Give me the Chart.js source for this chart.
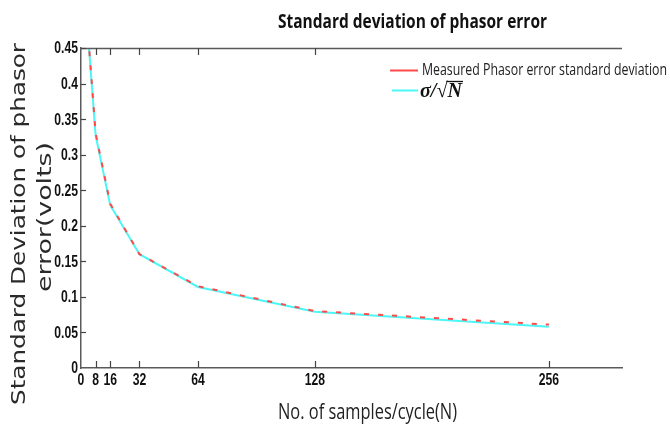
<!DOCTYPE html>
<html>
<head>
<meta charset="utf-8">
<script src="https://cdn.jsdelivr.net/npm/chart.js@4/dist/chart.umd.min.js"></script>
<style>
html,body{margin:0;padding:0;background:#fff;}
#c{display:block;}
</style>
</head>
<body>
<canvas id="c" width="670" height="425"></canvas>
<script>
// ---- data ----
const xTickValues = [0, 8, 16, 32, 64, 128, 256];
const yTickValues = [0, 0.05, 0.1, 0.15, 0.2, 0.25, 0.3, 0.35, 0.4, 0.45];
const samplesN = [4, 8, 16, 32, 64, 128, 256];
const measuredStd = [0.465, 0.330, 0.231, 0.160, 0.115, 0.080, 0.061];
const theoryStd = [0.463, 0.327, 0.229, 0.160, 0.114, 0.079, 0.058];
const seriesLabels = ['Measured Phasor error standard deviation', 'σ/√N'];
const chartTitle = 'Standard deviation of phasor error';
const xTitle = 'No. of samples/cycle(N)';
const yTitle = ['Standard Deviation of phasor', 'error(volts)'];

const RED = '#ff4a4a';
const CYAN = '#4cf6f6';
const TICK_FONT = 'bold 16px "Liberation Sans"';
const TICK_SX = 0.76;

function fitText(ctx, text, x, y, w, font, color) {
  ctx.save();
  ctx.font = font;
  ctx.fillStyle = color;
  ctx.textAlign = 'left';
  ctx.textBaseline = 'alphabetic';
  const m = ctx.measureText(text).width;
  const sx = w / m;
  ctx.translate(x, y);
  ctx.scale(sx, 1);
  ctx.fillText(text, 0, 0);
  ctx.restore();
  return sx;
}

function squeezeText(ctx, text, x, y, sx, font, color, align, baseline) {
  ctx.save();
  ctx.font = font;
  ctx.fillStyle = color;
  ctx.textAlign = align;
  ctx.textBaseline = baseline;
  ctx.translate(x, y);
  ctx.scale(sx, 1);
  ctx.fillText(text, 0, 0);
  ctx.restore();
}

const fmt = v => String(+Number(v).toFixed(2));

const decor = {
  id: 'decor',
  afterDraw(chart) {
    const ctx = chart.ctx;
    const xs = chart.scales.x, ys = chart.scales.y;
    const a = chart.chartArea;
    ctx.save();
    // top frame line
    ctx.strokeStyle = '#5a5a5a';
    ctx.lineWidth = 1.5;
    ctx.beginPath();
    ctx.moveTo(a.left, a.top + 0.5);
    ctx.lineTo(a.right, a.top + 0.5);
    ctx.stroke();
    // inward ticks
    ctx.lineWidth = 1.2;
    ctx.strokeStyle = '#444';
    xs.ticks.forEach(t => {
      const v = t.value;
      if (v === 0) return;
      const px = Math.round(xs.getPixelForValue(v)) + 0.5;
      ctx.beginPath();
      ctx.moveTo(px, a.bottom);
      ctx.lineTo(px, a.bottom - 7);
      ctx.stroke();
      if (v <= 128) {
        ctx.beginPath();
        ctx.moveTo(px, a.top);
        ctx.lineTo(px, a.top + 7);
        ctx.stroke();
      }
    });
    ys.ticks.forEach(t => {
      const v = t.value;
      if (v === 0) return;
      const py = Math.round(ys.getPixelForValue(v)) + 0.5;
      ctx.beginPath();
      ctx.moveTo(a.left, py);
      ctx.lineTo(a.left + 5, py);
      ctx.stroke();
    });
    ctx.restore();

    // tick labels (positions from the library scales)
    xs.ticks.forEach(t => {
      squeezeText(ctx, fmt(t.value), xs.getPixelForValue(t.value), a.bottom + 5, TICK_SX, TICK_FONT, '#111', 'center', 'top');
    });
    ys.ticks.forEach(t => {
      squeezeText(ctx, fmt(t.value), a.left - 3, ys.getPixelForValue(t.value) + 1, TICK_SX, TICK_FONT, '#111', 'right', 'middle');
    });

    // title
    fitText(ctx, chartTitle, 278, 28, 269, 'bold 20px "Open Sans"', '#111');
    // x title
    fitText(ctx, xTitle, 278, 419, 179, '22px "Open Sans"', '#222');
    // y title (rotated)
    ctx.save();
    ctx.translate(25, 405);
    ctx.rotate(-Math.PI / 2);
    fitText(ctx, yTitle[0], 0, 0, 362, '19px "DejaVu Sans"', '#2a2a2a');
    ctx.restore();
    ctx.save();
    ctx.translate(51, 292);
    ctx.rotate(-Math.PI / 2);
    fitText(ctx, yTitle[1], 0, 0, 150, '19px "DejaVu Sans"', '#2a2a2a');
    ctx.restore();

    // legend
    ctx.save();
    ctx.lineWidth = 2;
    ctx.strokeStyle = RED;
    ctx.beginPath(); ctx.moveTo(390, 70.5); ctx.lineTo(418, 70.5); ctx.stroke();
    ctx.strokeStyle = CYAN;
    ctx.beginPath(); ctx.moveTo(392, 90.5); ctx.lineTo(418, 90.5); ctx.stroke();
    ctx.restore();
    fitText(ctx, seriesLabels[0], 422, 75, 245, '17px "Open Sans"', '#222');
    // sigma / sqrt N
    const sFont = 'italic bold 21px "Liberation Serif"';
    ctx.save();
    ctx.font = sFont;
    const wAll = ctx.measureText(seriesLabels[1]).width;
    const wPre = ctx.measureText(seriesLabels[1].slice(0, 3)).width;
    ctx.restore();
    const sx = fitText(ctx, seriesLabels[1], 420, 97, 42, sFont, '#111');
    ctx.save();
    ctx.strokeStyle = '#111';
    ctx.lineWidth = 1.3;
    ctx.beginPath();
    ctx.moveTo(420 + wPre * sx - 1, 81.5);
    ctx.lineTo(420 + wAll * sx + 1, 81.5);
    ctx.stroke();
    ctx.restore();
  }
};

new Chart(document.getElementById('c'), {
  type: 'line',
  data: {
    datasets: [
      {
        label: seriesLabels[1],
        data: samplesN.map((n, i) => ({ x: n, y: theoryStd[i] })),
        borderColor: CYAN,
        borderWidth: 2,
        pointRadius: 0,
        tension: 0,
        fill: false,
        order: 2
      },
      {
        label: seriesLabels[0],
        data: samplesN.map((n, i) => ({ x: n, y: measuredStd[i] })),
        borderColor: RED,
        borderWidth: 2,
        borderDash: [5, 9],
        pointRadius: 0,
        tension: 0,
        fill: false,
        order: 1
      }
    ]
  },
  options: {
    responsive: false,
    animation: false,
    layout: { padding: { left: 0, right: 48, top: 48, bottom: 0 } },
    plugins: { legend: { display: false }, title: { display: false }, tooltip: { enabled: false } },
    scales: {
      x: {
        type: 'linear',
        min: 0,
        max: 296,
        grid: { display: true, drawOnChartArea: false, drawTicks: false, color: 'rgba(0,0,0,0)' },
        border: { display: true, color: '#5a5a5a', width: 1.5 },
        ticks: { display: false },
        afterBuildTicks: s => { s.ticks = xTickValues.map(v => ({ value: v })); },
        afterFit: s => { s.height = 57; }
      },
      y: {
        type: 'linear',
        min: 0,
        max: 0.45,
        grid: { display: true, drawOnChartArea: false, drawTicks: false, color: 'rgba(0,0,0,0)' },
        border: { display: true, color: '#5a5a5a', width: 1.5 },
        ticks: { display: false },
        afterBuildTicks: s => { s.ticks = yTickValues.map(v => ({ value: v })); },
        afterFit: s => { s.width = 81; }
      }
    }
  },
  plugins: [decor]
});
</script>
</body>
</html>
